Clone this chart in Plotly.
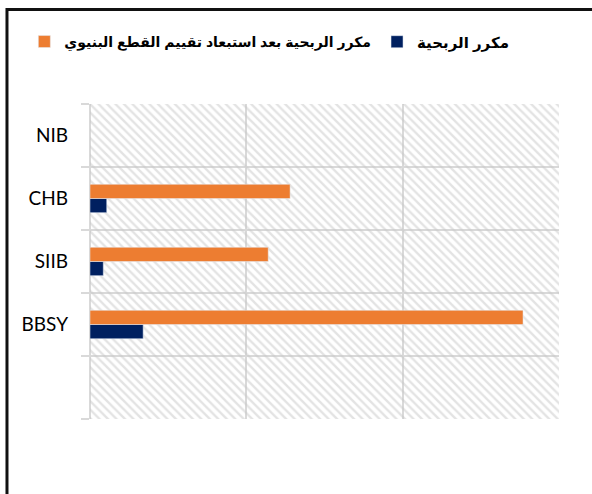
import plotly.graph_objects as go

categories = ["NIB", "CHB", "SIIB", "BBSY"]
axis_order = [" ", "BBSY", "SIIB", "CHB", "NIB"]
pe_values = [None, 1.07, 0.85, 3.4]
pe_adj_values = [None, 12.8, 11.4, 27.7]
name_pe = "مكرر الربحية"
name_pe_adj = "مكرر الربحية بعد استبعاد تقييم القطع البنيوي"

NAVY = "#002060"
ORANGE = "#ED7D31"
GRID = "#d9d9d9"
LEGEND_FONT = "Arial, Liberation Sans, DejaVu Sans, sans-serif"

fig = go.Figure()

# hatched plot-area background (main axes, hidden)
fig.add_trace(go.Scatter(
    x=[0, 1, 1, 0, 0], y=[0, 0, 1, 1, 0], mode="lines", fill="toself",
    line=dict(width=0), fillcolor="rgba(0,0,0,0)",
    fillpattern=dict(shape="\\", size=6, solidity=0.4, fgcolor="#c8c8c8",
                     bgcolor="rgba(0,0,0,0)"),
    hoverinfo="skip", showlegend=False, xaxis="x", yaxis="y"))

fig.add_trace(go.Bar(
    y=categories, x=pe_values, name=name_pe, orientation="h",
    marker=dict(color=NAVY), xaxis="x2", yaxis="y2", legend="legend2"))
fig.add_trace(go.Bar(
    y=categories, x=pe_adj_values, name=name_pe_adj, orientation="h",
    marker=dict(color=ORANGE), xaxis="x2", yaxis="y2", legend="legend"))

fig.update_layout(
    width=592, height=494,
    margin=dict(l=90, r=33, t=104, b=75),
    paper_bgcolor="white", plot_bgcolor="white",
    barmode="group", bargap=0.55, bargroupgap=0,
    xaxis=dict(range=[0, 1], visible=False, fixedrange=True),
    yaxis=dict(range=[0, 1], visible=False, fixedrange=True),
    xaxis2=dict(overlaying="x", range=[0, 30], dtick=10, showticklabels=False,
                showgrid=True, gridcolor=GRID, gridwidth=2, zeroline=True,
                zerolinecolor=GRID, zerolinewidth=2, showline=False),
    yaxis2=dict(overlaying="y", type="category", categoryorder="array",
                categoryarray=axis_order, range=[-0.5, 4.5],
                tickson="boundaries", ticks="outside", ticklen=8, tickwidth=2,
                tickcolor=GRID, showgrid=True, gridcolor=GRID, gridwidth=2,
                showline=False, zeroline=False, ticklabelstandoff=21,
                tickfont=dict(family="Lato, Carlito, Calibri, sans-serif",
                              size=19, color="#000")),
    legend=dict(orientation="h", x=-0.14, xanchor="left",
                y=1.197, yanchor="middle",
                font=dict(family=LEGEND_FONT, size=14, color="#000", weight="bold"),
                bgcolor="rgba(0,0,0,0)"),
    legend2=dict(orientation="h", x=0.612, xanchor="left",
                 y=1.197, yanchor="middle",
                 font=dict(family=LEGEND_FONT, size=15, color="#000", weight="bold"),
                 bgcolor="rgba(0,0,0,0)"),
    shapes=[dict(type="rect", xref="paper", yref="paper",
                 x0=-0.177, x1=1.3, y0=-0.5, y1=1.3,
                 line=dict(color="#111", width=3), fillcolor="rgba(0,0,0,0)",
                 layer="above")],
)

fig.write_html("out.html", config={"displayModeBar": False},
               post_script="document.body.style.margin='0';")
